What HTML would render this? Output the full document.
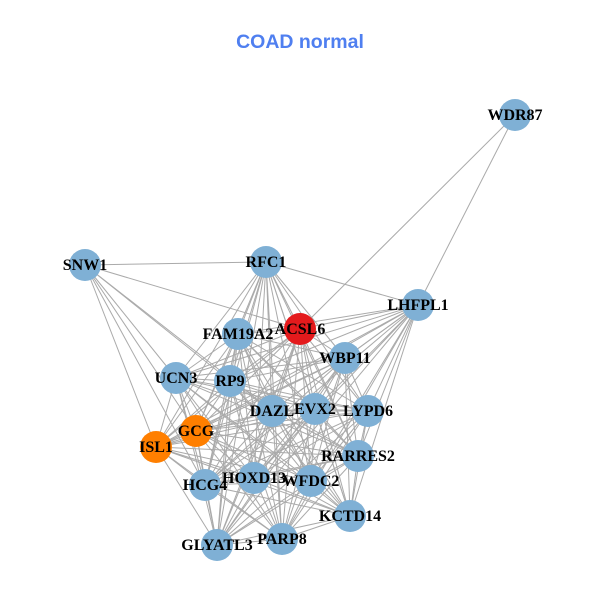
<!DOCTYPE html>
<html><head><meta charset="utf-8"><style>
html,body{margin:0;padding:0;background:#fff;width:600px;height:600px;overflow:hidden}
svg text{font-family:"Liberation Serif",serif;font-weight:bold;font-size:16px;fill:#000}
</style></head><body>
<svg id="s" width="600" height="600" xmlns="http://www.w3.org/2000/svg">
<text x="300" y="48" text-anchor="middle" style="font-family:'Liberation Sans',sans-serif;font-size:19.5px;fill:#4f7ff0">COAD normal</text>
<g id="e" stroke="#aaaaaa" stroke-width="1"></g>
<g id="n"></g>
</svg>
<script>
var N={WDR87:[515,115],SNW1:[85,265],RFC1:[266,262],LHFPL1:[418,305],FAM19A2:[238,334],ACSL6:[300,329],WBP11:[345,358],UCN3:[176,378],RP9:[230,381],DAZL:[272,411],EVX2:[315,409],LYPD6:[368,411],GCG:[196,431],ISL1:[156,447],RARRES2:[358,456],HOXD13:[254,478],WFDC2:[311,481],HCG4:[205,485],KCTD14:[350,516],PARP8:[282,539],GLYATL3:[217,545]};
var col={ACSL6:"#e41a1c",GCG:"#ff7f00",ISL1:"#ff7f00"};
var E=[["WDR87","ACSL6"],["WDR87","LHFPL1"],["SNW1","RFC1"],["SNW1","ACSL6"],["SNW1","UCN3"],["SNW1","RP9"],["SNW1","GCG"],["SNW1","ISL1"],["SNW1","HCG4"],["SNW1","DAZL"]];
var C=Object.keys(N).filter(function(k){return k!="WDR87"&&k!="SNW1"});
for(var i=0;i<C.length;i++)for(var j=i+1;j<C.length;j++)E.push([C[i],C[j]]);
var ns="http://www.w3.org/2000/svg",ge=document.getElementById("e"),gn=document.getElementById("n");
E.forEach(function(p){var l=document.createElementNS(ns,"line");var a=N[p[0]],b=N[p[1]];
l.setAttribute("x1",a[0]);l.setAttribute("y1",a[1]);l.setAttribute("x2",b[0]);l.setAttribute("y2",b[1]);ge.appendChild(l);});
for(var k in N){var c=document.createElementNS(ns,"circle");c.setAttribute("cx",N[k][0]);c.setAttribute("cy",N[k][1]);c.setAttribute("r",16);c.setAttribute("fill",col[k]||"#7fb0d5");gn.appendChild(c);}
for(var k in N){var t=document.createElementNS(ns,"text");t.setAttribute("x",N[k][0]);t.setAttribute("y",N[k][1]+5);t.setAttribute("text-anchor","middle");t.textContent=k;gn.appendChild(t);}
</script>
</body></html>
